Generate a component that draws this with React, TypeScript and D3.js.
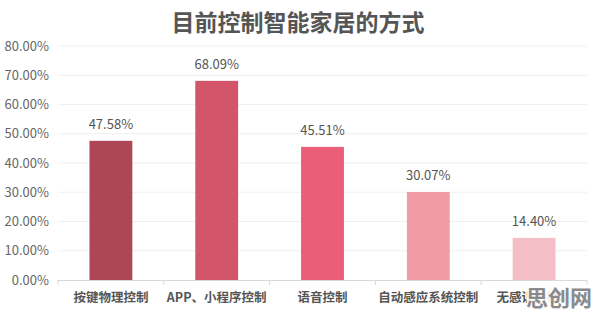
import React from "react";
import * as d3 from "d3";

const categories = ["按键物理控制", "APP、小程序控制", "语音控制", "自动感应系统控制", "无感识别控制"];
const values = [47.58, 68.09, 45.51, 30.07, 14.4];
const colors = ["#AE4656", "#D35569", "#EB5E77", "#F09BA5", "#F4BEC6"];
const yTicks = [0, 10, 20, 30, 40, 50, 60, 70, 80];
const title = "目前控制智能家居的方式";
const watermark = "思创网";

const W = 596, H = 313;
const left = 58, right = 587, top = 46, bottom = 280;

export default function App() {
  const x = d3.scaleBand<string>().domain(categories).range([left, right]).paddingInner(0).paddingOuter(0);
  const y = d3.scaleLinear().domain([0, 80]).range([bottom, top]);
  const bw = x.bandwidth() * 0.405;
  const font = "'Microsoft YaHei', 'Noto Sans CJK SC', 'Noto Sans', sans-serif";
  const boundaries = categories.map((c) => x(c)!).concat([right]);
  return (
    <svg width={W} height={H} style={{ position: "absolute", left: 0, top: 0, background: "#fff" }} fontFamily={font}>
      <text x={298} y={31} textAnchor="middle" fontSize={23} fontWeight="bold" fill="#555">{title}</text>
      {yTicks.map((t) => (
        <g key={t}>
          {t > 0 && <line x1={left} x2={right} y1={y(t)} y2={y(t)} stroke="#EFEFEF" strokeWidth={1} />}
          <text x={49} y={y(t)} dy="0.35em" textAnchor="end" fontSize={13} fill="#666">{t.toFixed(2)}%</text>
        </g>
      ))}
      {categories.map((c, i) => (
        <g key={c}>
          <rect x={x(c)! + (x.bandwidth() - bw) / 2} y={y(values[i])} width={bw} height={bottom - y(values[i])} fill={colors[i]} />
          <text x={x(c)! + x.bandwidth() / 2} y={y(values[i]) - 12} textAnchor="middle" fontSize={13} fill="#555">{values[i].toFixed(2)}%</text>
          <text x={x(c)! + x.bandwidth() / 2} y={302} textAnchor="middle" fontSize={12.5} fontWeight="bold" fill="#555">{c}</text>
        </g>
      ))}
      <line x1={left} x2={right} y1={bottom + 0.5} y2={bottom + 0.5} stroke="#D9D9D9" />
      {boundaries.map((b, i) => (
        <line key={i} x1={b} x2={b} y1={bottom} y2={bottom + 5} stroke="#D9D9D9" />
      ))}
      <rect x={527} y={287} width={66} height={22} fill="#fff" opacity={0.9} />
      <text x={559} y={306} textAnchor="middle" fontSize={22} fontWeight="bold" fill="#8a8a8a">{watermark}</text>
    </svg>
  );
}
